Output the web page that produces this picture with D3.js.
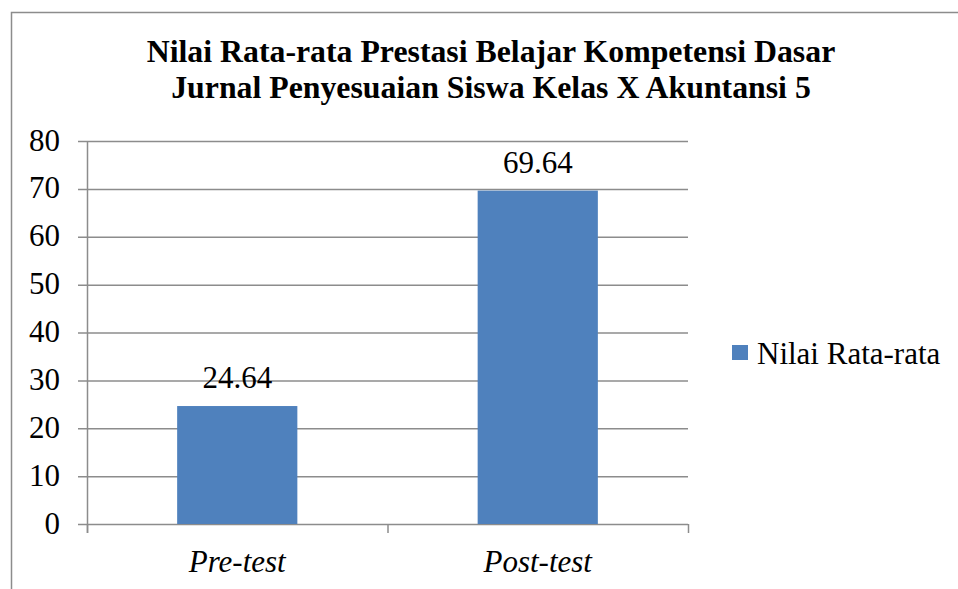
<!DOCTYPE html>
<html>
<head>
<meta charset="utf-8">
<script src="https://cdn.jsdelivr.net/npm/d3@7"></script>
<style>
  body { margin: 0; background: #fff; }
</style>
</head>
<body>
<svg id="chart"></svg>
<script>
// Data
const categories = ["Pre-test", "Post-test"];
const values = [24.64, 69.64];
const seriesName = "Nilai Rata-rata";
const titleLines = [
    "Nilai Rata-rata Prestasi Belajar Kompetensi Dasar",
    "Jurnal Penyesuaian Siswa Kelas X Akuntansi 5"
];
const yTicks = [0, 10, 20, 30, 40, 50, 60, 70, 80];

const width = 958;
const height = 589;
const margin = { top: 141, right: 270, bottom: 65, left: 87 };
const serif = "'Liberation Serif', 'Times New Roman', Times, serif";
const fontSize = 31;

const svg = d3.select("#chart")
    .attr("width", width)
    .attr("height", height)
    .attr("font-family", serif);

// outer frame (right and bottom edges fall outside the picture)
svg.append("rect")
    .attr("x", 11.5)
    .attr("y", 12.5)
    .attr("width", 1000)
    .attr("height", 1000)
    .attr("fill", "none")
    .attr("stroke", "#8c8c8c")
    .attr("stroke-width", 1.5);

// title
svg.append("g").selectAll("text")
    .data(titleLines)
    .enter().append("text")
    .attr("x", 491)
    .attr("y", (d, i) => 62 + i * 36)
    .attr("text-anchor", "middle")
    .attr("font-size", 31.8)
    .attr("font-weight", "bold")
    .text(d => d);

const plotW = 688 - margin.left;
const plotH = 524 - margin.top;

const g = svg.append("g")
    .attr("transform", "translate(" + margin.left + "," + margin.top + ")");

const x = d3.scaleBand()
    .domain(categories)
    .range([0, plotW])
    .paddingInner(0.6)
    .paddingOuter(0.3);

const y = d3.scaleLinear()
    .domain([0, 80])
    .range([plotH, 0]);

// gridlines
g.append("g").selectAll("line")
    .data(yTicks)
    .enter().append("line")
    .attr("x1", -9)
    .attr("x2", plotW)
    .attr("y1", d => y(d) + 0.5)
    .attr("y2", d => y(d) + 0.5)
    .attr("stroke", "#8c8c8c")
    .attr("stroke-width", 1.5);

// y axis line
g.append("line")
    .attr("x1", 0.5).attr("x2", 0.5)
    .attr("y1", 0).attr("y2", plotH + 9)
    .attr("stroke", "#8c8c8c")
    .attr("stroke-width", 1.5);

// category tick marks
const catTicks = [0, plotW / 2, plotW];
g.append("g").selectAll("line")
    .data(catTicks)
    .enter().append("line")
    .attr("x1", d => d + 0.5).attr("x2", d => d + 0.5)
    .attr("y1", plotH).attr("y2", plotH + 9)
    .attr("stroke", "#8c8c8c")
    .attr("stroke-width", 1.5);

// y tick labels
g.append("g").selectAll("text")
    .data(yTicks)
    .enter().append("text")
    .attr("x", -27)
    .attr("y", d => y(d) + 9.5)
    .attr("text-anchor", "end")
    .attr("font-size", fontSize)
    .text(d => d);

// bars
g.selectAll(".bar")
    .data(values)
    .enter().append("rect")
    .attr("class", "bar")
    .attr("x", (d, i) => x(categories[i]))
    .attr("y", d => y(d))
    .attr("width", x.bandwidth())
    .attr("height", d => plotH - y(d))
    .attr("fill", "#4f81bd");

// value labels
g.selectAll(".label")
    .data(values)
    .enter().append("text")
    .attr("class", "label")
    .attr("x", (d, i) => x(categories[i]) + x.bandwidth() / 2)
    .attr("y", d => y(d) - 18)
    .attr("text-anchor", "middle")
    .attr("font-size", fontSize)
    .text(d => d.toFixed(2));

// category labels
g.selectAll(".cat")
    .data(categories)
    .enter().append("text")
    .attr("class", "cat")
    .attr("x", d => x(d) + x.bandwidth() / 2)
    .attr("y", plotH + 48)
    .attr("text-anchor", "middle")
    .attr("font-size", fontSize)
    .attr("font-style", "italic")
    .text(d => d);

// legend
const legend = svg.append("g")
    .attr("transform", "translate(732,345)");
legend.append("rect")
    .attr("width", 16)
    .attr("height", 15)
    .attr("fill", "#4f81bd");
legend.append("text")
    .attr("x", 25)
    .attr("y", 19)
    .attr("font-size", fontSize)
    .text(seriesName);
</script>
</body>
</html>
